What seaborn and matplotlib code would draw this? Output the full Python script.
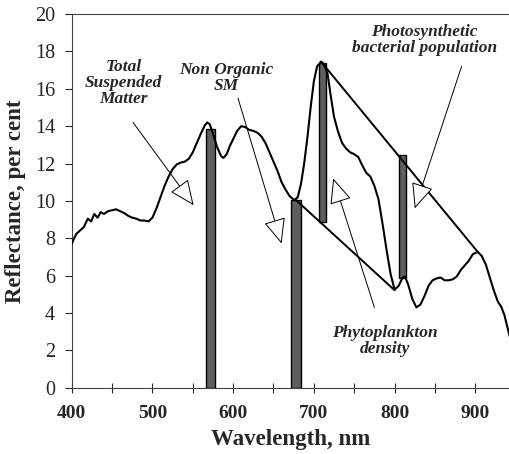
import numpy as np
import pandas as pd
import matplotlib
matplotlib.use("Agg")
import matplotlib.pyplot as plt
import seaborn as sns

# reflectance spectrum
wavelength = [400, 403, 406, 410, 415, 420, 424, 428, 432, 436, 440, 445, 450, 455,
              460, 465, 470, 475, 480, 485, 490, 495, 500, 505, 510, 515, 520, 525,
              530, 535, 540, 545, 550, 555, 560, 565, 568, 571, 575, 580, 585, 588,
              592, 596, 600, 605, 610, 615, 620, 625, 630, 635, 640, 645, 650, 655,
              660, 665, 670, 676, 680, 684, 688, 692, 696, 700, 704, 709, 713, 717,
              721, 725, 730, 735, 740, 745, 750, 755, 760, 765, 770, 775, 780, 785,
              790, 795, 800, 805, 810, 813, 817, 822, 827, 832, 837, 842, 847, 852,
              857, 862, 867, 872, 877, 882, 887, 892, 897, 903, 908, 913, 918, 923,
              928, 932, 936, 940, 943]
reflectance = [7.7, 8.0, 8.25, 8.4, 8.6, 9.05, 8.9, 9.3, 9.1, 9.4, 9.3, 9.45, 9.5, 9.55,
               9.45, 9.35, 9.2, 9.1, 9.05, 8.95, 8.95, 8.9, 9.1, 9.6, 10.2, 10.8, 11.3, 11.7,
               11.95, 12.05, 12.1, 12.25, 12.6, 13.1, 13.6, 14.05, 14.2, 14.1, 13.6, 12.9, 12.4, 12.3,
               12.5, 12.95, 13.3, 13.75, 14.0, 13.95, 13.8, 13.75, 13.65, 13.45, 13.1, 12.6, 12.1, 11.6,
               11.0, 10.6, 10.25, 10.04, 10.2, 10.9, 12.0, 13.4, 15.0, 16.4, 17.2, 17.45, 17.3, 16.8,
               15.6, 14.5, 13.7, 13.1, 12.8, 12.6, 12.5, 12.35, 11.9, 11.5, 11.3, 10.8, 10.1, 8.8,
               7.4, 6.1, 5.25, 5.45, 5.9, 5.95, 5.5, 4.75, 4.3, 4.45, 4.9, 5.45, 5.75, 5.85,
               5.9, 5.75, 5.75, 5.8, 5.95, 6.3, 6.55, 6.8, 7.15, 7.27, 7.05, 6.6, 5.9, 5.2,
               4.6, 4.35, 3.9, 3.2, 2.7]

# marker bars
bar_center = [572, 678, 711, 810]
bar_width = [12, 12, 8.5, 8.5]
bar_bottom = [0, 0, 8.88, 5.85]
bar_top = [13.87, 10.04, 17.4, 12.44]

# straight lines joining the features
upper_line_x = [709, 903]
upper_line_y = [17.45, 7.27]
lower_line_x = [678, 800]
lower_line_y = [10.04, 5.22]

# annotations: label, label position, arrow tail, arrow tip
labels = ["Total\nSuspended\nMatter", "Non Organic\nSM",
          "Photosynthetic\nbacterial population", "Phytoplankton\ndensity"]
label_pos = [(464, 16.3), (592, 16.6), (837, 18.6), (788, 2.5)]
arrow_tail = [(476, 14.2), (606, 15.5), (883, 17.2), (775, 4.3)]
arrow_tip = [(551, 9.77), (660, 7.72), (825, 9.6), (724, 11.2)]

df = pd.DataFrame({"wavelength": wavelength, "reflectance": reflectance})

sns.set_style("ticks")
plt.rcParams["font.family"] = ["Liberation Serif", "DejaVu Serif"]

fig = plt.figure(figsize=(5.1, 4.54), dpi=100)
ax = fig.add_axes([0.1406, 0.146, 0.8594, 0.823])

heights = np.array(bar_top) - np.array(bar_bottom)
ax.bar(bar_center, heights, width=bar_width, bottom=bar_bottom,
       color="#5e5e5e", edgecolor="black", linewidth=1.0, zorder=2)

sns.lineplot(data=df, x="wavelength", y="reflectance", color="black",
             linewidth=1.5, ax=ax, zorder=3)
ax.plot(upper_line_x, upper_line_y, color="black", lw=1.4, zorder=3)
ax.plot(lower_line_x, lower_line_y, color="black", lw=1.4, zorder=3)

for lab, pos, tail, tip in zip(labels, label_pos, arrow_tail, arrow_tip):
    ax.text(pos[0], pos[1], lab, ha="center", va="center", fontsize=12.5,
            fontweight="bold", fontstyle="italic", linespacing=1.0)
    ax.annotate("", xy=tip, xytext=tail,
                arrowprops=dict(arrowstyle="-|>,head_length=0.8,head_width=0.35",
                                fc="white", ec="black", lw=0.7,
                                mutation_scale=20, shrinkA=0, shrinkB=0),
                zorder=4)

ax.set_xlim(400, 943)
ax.set_ylim(0, 20)
ax.set_xticks([400, 500, 600, 700, 800, 900])
ax.set_xticks([450, 550, 650, 750, 850], minor=True)
ax.set_yticks(range(0, 21, 2))
ax.tick_params(axis="x", which="both", direction="inout", length=7, width=0.8,
               pad=9, labelsize=14)
ax.tick_params(axis="y", direction="out", length=5, width=0.8, pad=7, labelsize=14.5)
for t in ax.get_xticklabels():
    t.set_fontweight("bold")

ax.spines["right"].set_visible(False)
for s in ["left", "bottom", "top"]:
    ax.spines[s].set_linewidth(0.8)
    ax.spines[s].set_color("#444444")

ax.set_xlabel("Wavelength, nm", fontsize=16.5, fontweight="bold")
ax.set_ylabel("Reflectance, per cent", fontsize=16.5, fontweight="bold")
ax.xaxis.set_label_coords(0.5, -0.11)
ax.yaxis.set_label_coords(-0.104, 0.5)

fig.savefig("out.png", dpi=100)
